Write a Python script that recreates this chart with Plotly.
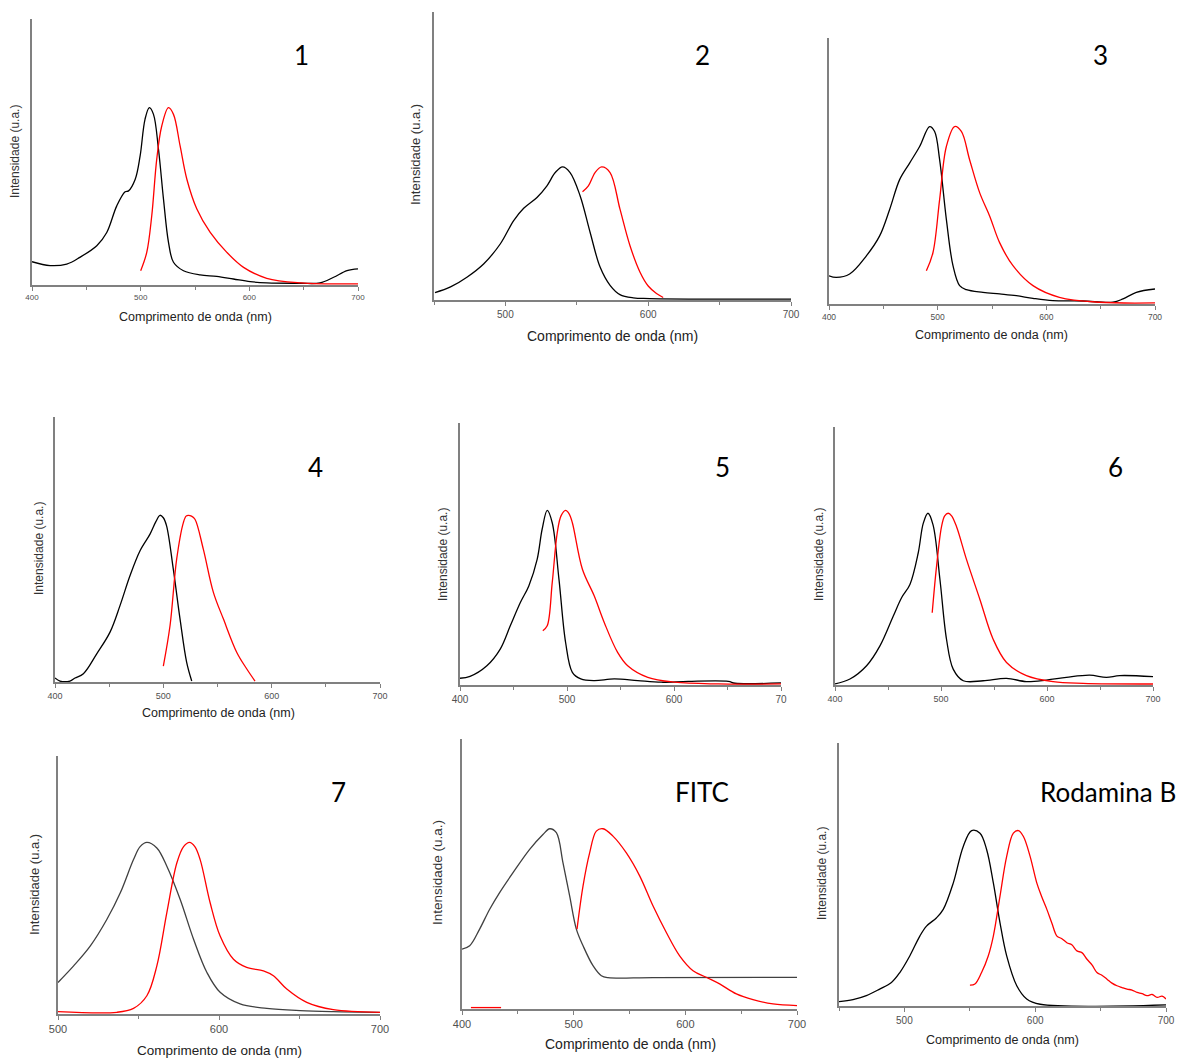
import plotly.graph_objects as go

W, H = 1182, 1059

# ---------------- data (normalised intensity, peak = 1) ----------------
# Panel 1
p1_ex_x = [400, 416.6, 432, 444, 459.6, 468.8, 478, 485.7, 488.8, 495, 499.5, 504, 508, 511.8, 516.4, 521, 525.6, 530.2, 539.4, 554.7, 570, 585.4, 600.8, 616, 647, 665, 677.6, 689.9, 700]
p1_ex_y = [0.126, 0.104, 0.113, 0.151, 0.217, 0.292, 0.443, 0.523, 0.528, 0.594, 0.726, 0.934, 1.0, 0.962, 0.764, 0.481, 0.236, 0.123, 0.075, 0.051, 0.043, 0.028, 0.013, 0.006, 0.004, 0.006, 0.038, 0.075, 0.085]
p1_em_x = [500, 505.6, 510.2, 514.8, 519.4, 525.6, 530.2, 536.3, 542.5, 551.7, 564, 579.3, 594.7, 616, 647, 700]
p1_em_y = [0.075, 0.179, 0.387, 0.708, 0.896, 1.0, 0.962, 0.783, 0.594, 0.425, 0.292, 0.179, 0.094, 0.032, 0.006, 0.0]

# Panel 2
p2_ex_x = [450.7, 461.6, 473.3, 484.9, 496.5, 505.8, 512.8, 522.1, 529.1, 534.9, 540, 545.3, 552.3, 559.3, 566.3, 573.3, 580.2, 589.5, 601, 700]
p2_ex_y = [0.05, 0.093, 0.168, 0.268, 0.419, 0.594, 0.687, 0.769, 0.857, 0.957, 1.0, 0.957, 0.782, 0.506, 0.243, 0.105, 0.035, 0.01, 0.005, 0.0]
p2_em_x = [554, 558.1, 562.8, 567.4, 573.3, 580.2, 587.2, 594.2, 600, 605.8, 610.5]
p2_em_y = [0.812, 0.857, 0.957, 1.0, 0.957, 0.682, 0.406, 0.206, 0.1, 0.043, 0.013]

# Panel 3
p3_ex_x = [400, 406.7, 419, 434.4, 446.6, 455.8, 465, 474.2, 483.4, 492.6, 497.2, 501.8, 508, 514.1, 520.2, 526.4, 541.7, 557, 572.4, 587.7, 606, 633.7, 661.3, 670.6, 682.8, 700]
p3_ex_y = [0.154, 0.145, 0.164, 0.267, 0.38, 0.53, 0.699, 0.793, 0.887, 1.0, 0.972, 0.812, 0.474, 0.211, 0.098, 0.075, 0.06, 0.051, 0.041, 0.026, 0.013, 0.011, 0.004, 0.023, 0.06, 0.079]
p3_em_x = [489.6, 495.7, 501.8, 508, 515.6, 521.8, 529.4, 538.7, 547.9, 557, 569.3, 587.7, 612, 648.8, 700]
p3_em_y = [0.182, 0.286, 0.586, 0.887, 1.0, 0.972, 0.812, 0.624, 0.492, 0.342, 0.211, 0.098, 0.032, 0.004, 0.0]

# Panel 4
p4_ex_x = [400, 404.6, 413.8, 418.5, 426.2, 438.5, 450.8, 460, 469.2, 478.5, 487.7, 493, 496.9, 500, 503, 509.2, 515.4, 521.5, 526.2]
p4_ex_y = [0.018, 0.0, 0.0, 0.018, 0.044, 0.164, 0.295, 0.455, 0.635, 0.786, 0.886, 0.96, 1.0, 0.985, 0.936, 0.675, 0.375, 0.114, 0.0]
p4_em_x = [500, 506.2, 512.3, 518.5, 521, 523.1, 526, 529.2, 536.9, 546.2, 555.4, 567.7, 576.9, 584.6]
p4_em_y = [0.09, 0.335, 0.735, 0.956, 0.995, 1.0, 0.995, 0.976, 0.796, 0.535, 0.375, 0.174, 0.074, 0.0]

# Panel 5
p5_ex_x = [400, 409.4, 425.1, 437.6, 447, 456.4, 464.3, 472.1, 476.8, 481.5, 486.2, 492.5, 498.7, 505, 512.9, 525.4, 544.2, 566.1, 588.1, 613.2, 650.8, 657.1, 700]
p5_ex_y = [0.033, 0.044, 0.105, 0.201, 0.335, 0.469, 0.565, 0.718, 0.893, 1.0, 0.929, 0.603, 0.239, 0.067, 0.029, 0.019, 0.029, 0.019, 0.01, 0.015, 0.015, 0.004, 0.006]
p5_em_x = [477.4, 481.5, 486.2, 490.9, 494.5, 498.7, 502, 505, 514.4, 525.4, 534.8, 547.3, 556.7, 575.5, 600.6, 641.4, 700]
p5_em_y = [0.307, 0.335, 0.584, 0.872, 0.97, 1.0, 0.98, 0.929, 0.661, 0.508, 0.354, 0.182, 0.105, 0.038, 0.01, 0.0, 0.0]

# Panel 6
p6_ex_x = [400, 414.1, 429.8, 442.4, 455, 462.8, 470.7, 478.5, 483.3, 487.7, 492.5, 499, 505.2, 511.5, 521, 539.8, 561.8, 580.6, 599.5, 618.3, 640.3, 656, 668.6, 700]
p6_ex_y = [0.0, 0.029, 0.107, 0.223, 0.398, 0.505, 0.583, 0.767, 0.942, 1.0, 0.932, 0.612, 0.262, 0.087, 0.019, 0.019, 0.033, 0.014, 0.023, 0.039, 0.052, 0.039, 0.049, 0.043]
p6_em_x = [491.7, 495.8, 500.5, 503.5, 506.8, 510, 514.6, 524.1, 536.7, 549.2, 561.8, 580.6, 605.8, 634, 700]
p6_em_y = [0.417, 0.689, 0.922, 0.985, 1.0, 0.985, 0.922, 0.728, 0.495, 0.262, 0.126, 0.049, 0.014, 0.004, 0.0]

# Panel 7
p7_ex_x = [500, 509.7, 520.1, 530.4, 538.7, 546.9, 551, 555.2, 561.4, 567.6, 575.9, 584.2, 592.5, 600.7, 613.1, 629.7, 650.4, 671, 700]
p7_ex_y = [0.179, 0.276, 0.393, 0.549, 0.704, 0.899, 0.975, 1.0, 0.967, 0.86, 0.665, 0.432, 0.237, 0.121, 0.053, 0.027, 0.014, 0.008, 0.004]
p7_em_x = [500, 536.6, 546.9, 555.2, 561.4, 567.6, 573.8, 578, 581.7, 585, 588.3, 594.5, 600.7, 609, 617.2, 627.6, 633.8, 642.1, 654.5, 671, 700]
p7_em_y = [0.008, 0.004, 0.027, 0.101, 0.276, 0.588, 0.879, 0.975, 1.0, 0.975, 0.899, 0.646, 0.451, 0.315, 0.267, 0.247, 0.218, 0.14, 0.062, 0.019, 0.004]

# FITC
p8_ex_x = [400, 406.9, 415.8, 424.8, 433.7, 445.7, 460.6, 472.5, 478.5, 484.5, 490.4, 496.4, 502.4, 508.4, 517.3, 524.8, 530.7, 571, 700]
p8_ex_y = [0.328, 0.347, 0.44, 0.551, 0.644, 0.755, 0.885, 0.968, 1.0, 0.978, 0.811, 0.625, 0.44, 0.347, 0.236, 0.18, 0.169, 0.169, 0.171]
p8_em_x = [503, 508.4, 514.3, 520.3, 526.3, 535.2, 547.2, 559.1, 571, 583, 594.9, 606.9, 618.8, 630.7, 645.7, 660.6, 678.5, 700]
p8_em_y = [0.44, 0.681, 0.865, 0.987, 1.0, 0.959, 0.865, 0.737, 0.57, 0.421, 0.291, 0.208, 0.171, 0.134, 0.078, 0.046, 0.022, 0.013]
p8_bl_x = [408, 435]
p8_bl_y = [0.002, 0.002]

# Rodamina B
p9_ex_x = [450, 460.7, 470.9, 481.1, 490.1, 496.5, 504.1, 511.8, 516.9, 524.6, 529.7, 537.4, 545, 551.4, 557.8, 562.9, 568, 573.1, 578.2, 585.9, 593.5, 603.8, 700]
p9_ex_y = [0.019, 0.03, 0.053, 0.091, 0.129, 0.186, 0.281, 0.395, 0.452, 0.5, 0.548, 0.7, 0.909, 1.0, 0.985, 0.89, 0.7, 0.471, 0.281, 0.11, 0.034, 0.004, 0.0]
p9_em_x = [550.1, 553.9, 559, 564.1, 568, 573.1, 578.2, 583.3, 587.2, 591, 596.1, 601.2, 605, 608.9, 612.7, 616.6, 620.4, 624.2, 628, 631.9, 635.7, 639.6, 643.4, 647.2, 651, 654.9, 658.7, 662.5, 666.4, 670.2, 674, 677.9, 681.7, 685.5, 689.4, 693.2, 697, 700]
p9_em_y = [0.114, 0.12, 0.186, 0.281, 0.395, 0.624, 0.852, 0.985, 1.0, 0.966, 0.852, 0.7, 0.62, 0.548, 0.47, 0.395, 0.38, 0.357, 0.345, 0.31, 0.3, 0.262, 0.23, 0.186, 0.17, 0.148, 0.125, 0.11, 0.1, 0.091, 0.085, 0.072, 0.065, 0.053, 0.06, 0.044, 0.05, 0.034]

labels = ["1", "2", "3", "4", "5", "6", "7", "FITC", "Rodamina B"]
x_title = "Comprimento de onda (nm)"
y_title = "Intensidade (u.a.)"

# ---------------- layout geometry (pixels) ----------------
panels = [
    dict(ex=(p1_ex_x, p1_ex_y), em=(p1_em_x, p1_em_y), x0=32, x1=358, xr=[400, 700], ybot=285, ytop=19, ymax=1.503,
         ticks=[400, 500, 600, 700], tlab=["400", "500", "600", "700"], tfs=8, excol="#000000",
         lab=(301, 55, "center"), xt=(195, 317, 12.5), yt=(15, 152, 12)),
    dict(ex=(p2_ex_x, p2_ex_y), em=(p2_em_x, p2_em_y), x0=434, x1=791, xr=[450, 700], ybot=300, ytop=12, ymax=2.17,
         ticks=[500, 600, 700], tlab=["500", "600", "700"], tfs=10, excol="#000000",
         lab=(702, 55, "center"), xt=(612, 336, 14), yt=(416, 155, 13)),
    dict(ex=(p3_ex_x, p3_ex_y), em=(p3_em_x, p3_em_y), x0=829, x1=1155, xr=[400, 700], ybot=304, ytop=38, ymax=1.502,
         ticks=[400, 500, 600, 700], tlab=["400", "500", "600", "700"], tfs=8.5, excol="#000000",
         lab=(1100, 55, "center"), xt=(991, 335, 12.5), yt=None),
    dict(ex=(p4_ex_x, p4_ex_y), em=(p4_em_x, p4_em_y), x0=55, x1=380, xr=[400, 700], ybot=682, ytop=417, ymax=1.593,
         ticks=[400, 500, 600, 700], tlab=["400", "500", "600", "700"], tfs=9, excol="#000000",
         lab=(315, 467, "center"), xt=(218, 713, 12.5), yt=(39, 549, 12)),
    dict(ex=(p5_ex_x, p5_ex_y), em=(p5_em_x, p5_em_y), x0=460, x1=781, xr=[400, 700], ybot=685, ytop=423, ymax=1.504,
         ticks=[400, 500, 600, 700], tlab=["400", "500", "600", "70"], tfs=10, excol="#000000",
         lab=(722, 467, "center"), xt=None, yt=(443, 555, 12)),
    dict(ex=(p6_ex_x, p6_ex_y), em=(p6_em_x, p6_em_y), x0=835, x1=1153, xr=[400, 700], ybot=685, ytop=427, ymax=1.505,
         ticks=[400, 500, 600, 700], tlab=["400", "500", "600", "700"], tfs=9, excol="#000000",
         lab=(1115, 467, "center"), xt=None, yt=(819, 555, 12)),
    dict(ex=(p7_ex_x, p7_ex_y), em=(p7_em_x, p7_em_y), x0=58, x1=380, xr=[500, 700], ybot=1014, ytop=756, ymax=1.506,
         ticks=[500, 600, 700], tlab=["500", "600", "700"], tfs=11, excol="#404040",
         lab=(338, 792, "center"), xt=(219, 1050, 13.5), yt=(34, 885, 13)),
    dict(ex=(p8_ex_x, p8_ex_y), em=(p8_em_x, p8_em_y), x0=462, x1=797, xr=[400, 700], ybot=1009, ytop=739, ymax=1.501,
         ticks=[400, 500, 600, 700], tlab=["400", "500", "600", "700"], tfs=11, excol="#404040",
         lab=(702, 792, "center"), xt=(630, 1044, 14), yt=(437, 873, 13.5)),
    dict(ex=(p9_ex_x, p9_ex_y), em=(p9_em_x, p9_em_y), x0=839, x1=1166, xr=[450, 700], ybot=1006, ytop=743, ymax=1.502,
         ticks=[500, 600, 700], tlab=["500", "600", "700"], tfs=10, excol="#000000",
         lab=(1178, 792, "right"), xt=(1002, 1040, 12.5), yt=(822, 874, 12)),
]

AX = "#808080"
fig = go.Figure()
layout = {}
annotations = []

for i, p in enumerate(panels):
    n = "" if i == 0 else str(i + 1)
    xa, ya = "x" + n, "y" + n
    fig.add_trace(go.Scatter(x=p["ex"][0], y=p["ex"][1], xaxis=xa, yaxis=ya, mode="lines",
                             line=dict(color=p["excol"], width=1.3, shape="spline", smoothing=1.0),
                             showlegend=False, hoverinfo="skip"))
    fig.add_trace(go.Scatter(x=p["em"][0], y=p["em"][1], xaxis=xa, yaxis=ya, mode="lines",
                             line=dict(color="#ff0000", width=1.3, shape="spline", smoothing=1.0),
                             showlegend=False, hoverinfo="skip"))
    if i == 7:
        fig.add_trace(go.Scatter(x=p8_bl_x, y=p8_bl_y, xaxis=xa, yaxis=ya, mode="lines",
                                 line=dict(color="#ff0000", width=1.3), showlegend=False, hoverinfo="skip"))
    layout["xaxis" + n] = dict(
        domain=[p["x0"] / W, p["x1"] / W], range=p["xr"], anchor=ya,
        showline=True, linecolor=AX, linewidth=1.5, showgrid=False, zeroline=False,
        ticks="outside", ticklen=4, tickwidth=1, tickcolor=AX,
        tickmode="array", tickvals=p["ticks"], ticktext=p["tlab"],
        tickfont=dict(family="Liberation Sans, Arial", size=p["tfs"], color="#505050"),
        minor=dict(ticks="outside", ticklen=3, tickcolor=AX, dtick=50, tick0=400),
        layer="below traces", fixedrange=True, automargin=False,
    )
    layout["yaxis" + n] = dict(
        domain=[1 - p["ybot"] / H, 1 - p["ytop"] / H], range=[-0.006, p["ymax"]], anchor=xa,
        showline=True, linecolor=AX, linewidth=1.5, showgrid=False, zeroline=False,
        showticklabels=False, ticks="", layer="below traces", fixedrange=True, automargin=False,
    )
    lx, ly, lanchor = p["lab"]
    annotations.append(dict(x=lx / W, y=1 - ly / H, xref="paper", yref="paper", text=labels[i],
                            showarrow=False, xanchor=lanchor, yanchor="middle",
                            font=dict(family="Lato, Open Sans", size=26, color="#000000")))
    if p["xt"]:
        tx, ty, ts = p["xt"]
        annotations.append(dict(x=tx / W, y=1 - ty / H, xref="paper", yref="paper", text=x_title,
                                showarrow=False, xanchor="center", yanchor="middle",
                                font=dict(family="Liberation Sans, Arial", size=ts, color="#222222")))
    if p["yt"]:
        tx, ty, ts = p["yt"]
        annotations.append(dict(x=tx / W, y=1 - ty / H, xref="paper", yref="paper", text=y_title,
                                showarrow=False, xanchor="center", yanchor="middle", textangle=-90,
                                font=dict(family="Liberation Sans, Arial", size=ts, color="#333333")))

fig.update_layout(
    width=W, height=H, autosize=False, margin=dict(l=0, r=0, t=0, b=0, pad=0),
    paper_bgcolor="white", plot_bgcolor="white",
    annotations=annotations, showlegend=False, **layout,
)

fig.write_html(
    "out.html",
    config={"displayModeBar": False, "responsive": False},
    post_script="document.body.style.margin='0';document.documentElement.style.overflow='hidden';",
)
